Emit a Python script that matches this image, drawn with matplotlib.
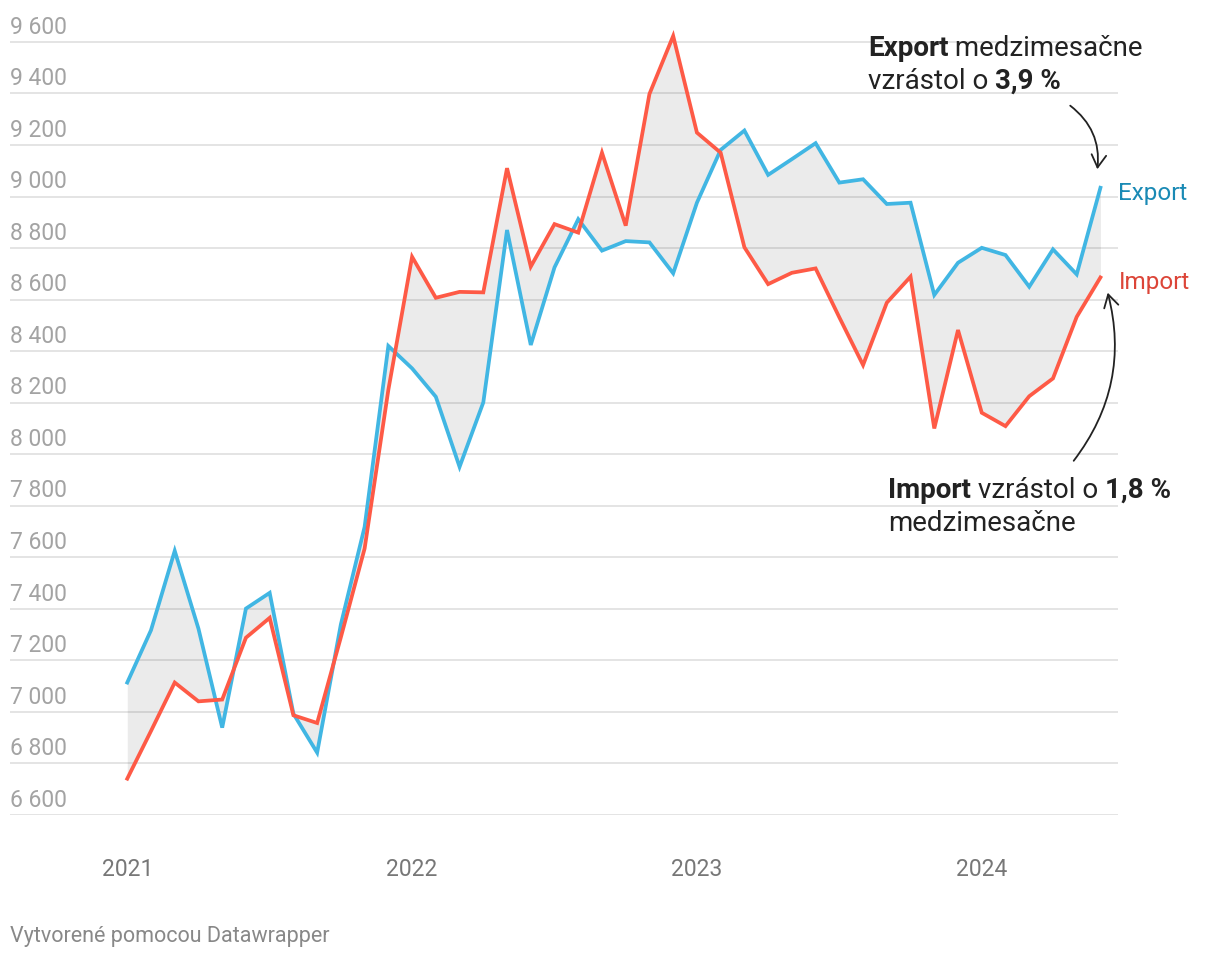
import numpy as np
import matplotlib.pyplot as plt

plt.rcParams['font.family'] = ['Roboto', 'DejaVu Sans']

# monthly values, Jan 2021 .. May 2024
export = [7114, 7317, 7625, 7323, 6939, 7401, 7462, 6993, 6842, 7340,
          7718, 8420, 8333, 8223, 7951, 8201, 8870, 8424, 8725, 8912,
          8790, 8827, 8822, 8702, 8976, 9181, 9256, 9084, 9145, 9207,
          9054, 9067, 8971, 8976, 8618, 8743, 8801, 8773, 8650, 8795,
          8698, 9034]
imports = [6741, 6926, 7114, 7041, 7048, 7288, 7365, 6987, 6957, 7290,
           7634, 8250, 8766, 8607, 8630, 8628, 9110, 8728, 8893, 8860,
           9170, 8887, 9398, 9623, 9248, 9170, 8803, 8660, 8704, 8721,
           8531, 8346, 8588, 8689, 8100, 8482, 8161, 8109, 8225, 8294,
           8533, 8686]
months = np.arange(len(export))

y_ticks = [9600, 9400, 9200, 9000, 8800, 8600, 8400, 8200, 8000,
           7800, 7600, 7400, 7200, 7000, 6800, 6600]
y_labels = [f"{v // 1000} {v % 1000:03d}" for v in y_ticks]
year_pos = [0, 12, 24, 36]
year_labels = ['2021', '2022', '2023', '2024']

W, H = 1220, 960
fig = plt.figure(figsize=(W / 100, H / 100), dpi=100)
ax = fig.add_axes([10 / W, 1 - 815 / H, 1108 / W, 795 / H])

blue = '#41b6e3'
red = '#fe5a46'

for v in y_ticks:
    ax.axhline(v, color='#e2e2e2', lw=1.3, zorder=0)
for v, s in zip(y_ticks, y_labels):
    ax.annotate(s, (0, v), xycoords=ax.get_yaxis_transform(),
                xytext=(0, 6), textcoords='offset points',
                va='baseline', ha='left', fontsize=16.5, color='#a3a3a3')

ax.fill_between(months, export, imports, color='black', alpha=0.08,
                lw=0, zorder=1)
ax.plot(months, export, color=blue, lw=2.7, zorder=3,
        solid_joinstyle='miter')
ax.plot(months, imports, color=red, lw=2.7, zorder=3,
        solid_joinstyle='miter')

ax.set_xlim(-4.94, 41.74)
ax.set_ylim(6600, 9685)
ax.set_xticks(year_pos, year_labels)
ax.set_yticks([])
ax.tick_params(axis='x', length=0, pad=31, labelsize=16.5,
               labelcolor='#777777')
for sp in ax.spines.values():
    sp.set_visible(False)

# series labels
ax.annotate('Export', (months[-1], export[-1]), xytext=(13, -4),
            textcoords='offset points', va='center', fontsize=17.5,
            color='#1a8ab5')
ax.annotate('Import', (months[-1], imports[-1]), xytext=(13, -4),
            textcoords='offset points', va='center', fontsize=17.5,
            color='#dc4538')

renderer = fig.canvas.get_renderer()


def rich(x, y, parts):
    # draw a line of mixed regular/bold text, pixel coords from top-left
    for s, w in parts:
        t = fig.text(x / W, 1 - y / H, s, fontweight=w, fontsize=20,
                     color='#222222', va='baseline', ha='left')
        x += t.get_window_extent(renderer).width


rich(868, 56, [('Export', 'bold'), (' medzimesačne', 'normal')])
rich(868, 89, [('vzrástol o ', 'normal'), ('3,9 %', 'bold')])
rich(888, 498, [('Import', 'bold'), (' vzrástol o ', 'normal'),
                ('1,8 %', 'bold')])
rich(888, 531, [('medzimesačne', 'normal')])

arrow = dict(arrowstyle='->,head_length=0.6,head_width=0.35',
             color='#222222', lw=1.3, mutation_scale=15)
fig.add_artist(plt.matplotlib.patches.FancyArrowPatch(
    (1068, H - 104), (1097, H - 172), transform=None,
    connectionstyle='arc3,rad=-0.3', **arrow))
fig.add_artist(plt.matplotlib.patches.FancyArrowPatch(
    (1072, H - 463), (1107, H - 290), transform=None,
    connectionstyle='arc3,rad=0.25', **arrow))

fig.text(10 / W, 1 - 942 / H, 'Vytvorené pomocou Datawrapper',
         fontsize=15.5, color='#888888', va='baseline')

fig.savefig('out.png', dpi=100)
